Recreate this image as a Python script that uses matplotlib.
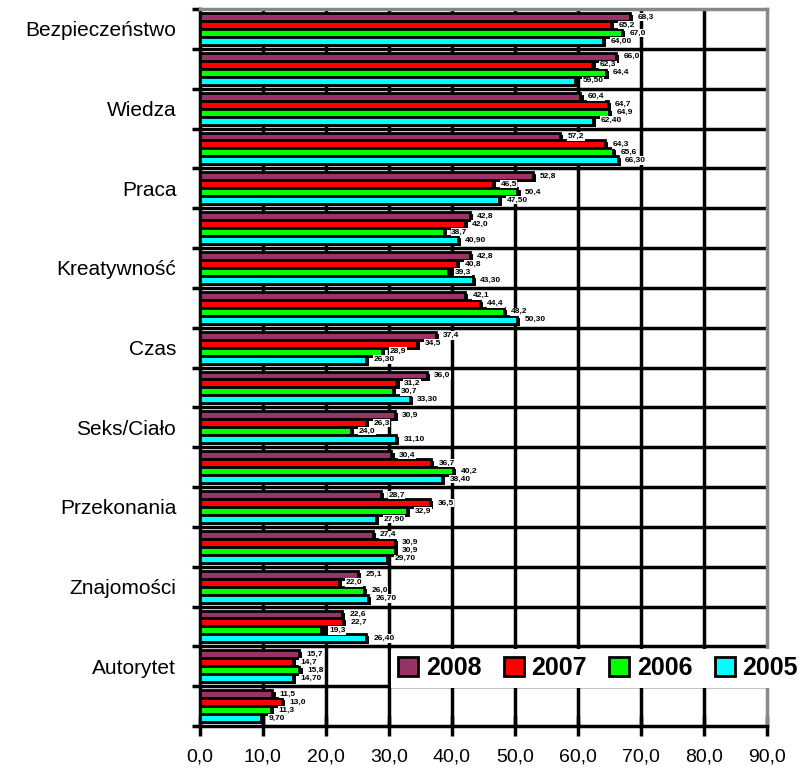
import numpy as np
import matplotlib.pyplot as plt
from matplotlib.patches import Patch

plt.rcParams["font.family"] = ["Liberation Sans", "DejaVu Sans"]

# 18 groups, only every other one carries a label
labels = ["Bezpieczeństwo", "", "Wiedza", "", "Praca", "", "Kreatywność", "",
          "Czas", "", "Seks/Ciało", "", "Przekonania", "", "Znajomości", "",
          "Autorytet", ""]

years = ["2008", "2007", "2006", "2005"]

v2008 = [68.3, 66.0, 60.4, 57.2, 52.8, 42.8, 42.8, 42.1, 37.4,
         36.0, 30.9, 30.4, 28.7, 27.4, 25.1, 22.6, 15.7, 11.5]
v2007 = [65.2, 62.3, 64.7, 64.3, 46.5, 42.0, 40.8, 44.4, 34.5,
         31.2, 26.3, 36.7, 36.5, 30.9, 22.0, 22.7, 14.7, 13.0]
v2006 = [67.0, 64.4, 64.9, 65.6, 50.4, 38.7, 39.3, 48.2, 28.9,
         30.7, 24.0, 40.2, 32.9, 30.9, 26.0, 19.3, 15.8, 11.3]
v2005 = [64.00, 59.50, 62.40, 66.30, 47.50, 40.90, 43.30, 50.30, 26.30,
         33.30, 31.10, 38.40, 27.90, 29.70, 26.70, 26.40, 14.70, 9.70]

colors = ["#993366", "#ff0000", "#00ff00", "#00ffff"]
series = [v2008, v2007, v2006, v2005]
decimals = [1, 1, 1, 2]

fig = plt.figure(figsize=(8.06, 7.79), dpi=100)
ax = fig.add_axes([0.248, 0.068, 0.7036, 0.9204])

n = len(labels)
ypos = np.arange(n)
bar_h = 0.2
offsets = [-0.3, -0.1, 0.1, 0.3]

# grid lines behind bars
for x in range(10, 90, 10):
    ax.axvline(x, color="black", lw=2.5, zorder=1)
for b in np.arange(0.5, n - 0.5, 1.0):
    ax.axhline(b, color="black", lw=2.5, zorder=1)

for vals, col, off, dec in zip(series, colors, offsets, decimals):
    vals = np.array(vals)
    # dark drop shadow
    ax.barh(ypos + off + 0.05, vals + 0.5, height=bar_h, color="black",
            zorder=2)
    ax.barh(ypos + off, vals, height=bar_h, color=col, edgecolor="black",
            linewidth=2, zorder=3)
    for y, v in zip(ypos + off, vals):
        txt = ("{:." + str(dec) + "f}").format(v).replace(".", ",")
        ax.text(v + 1.2, y, txt, fontsize=6, fontweight="bold",
                va="center", ha="left", zorder=4,
                bbox=dict(facecolor="white", edgecolor="none", pad=0.5))

ax.set_ylim(n - 0.5, -0.5)
ax.set_xlim(0, 90)

ax.set_yticks(ypos)
ax.set_yticklabels(labels, fontsize=15)
ax.tick_params(axis="y", length=0, pad=17)
ax.set_yticks(np.arange(-0.5, n, 1.0), minor=True)
ax.tick_params(axis="y", which="minor", length=6, width=2.5, direction="out")

ax.set_xticks(range(0, 100, 10))
ax.set_xticklabels(["{},0".format(x) for x in range(0, 100, 10)], fontsize=14)
ax.tick_params(axis="x", length=14, width=2.5, direction="inout", pad=9)

ax.spines["left"].set_linewidth(2.5)
ax.spines["bottom"].set_linewidth(2.5)
for s in ["top", "right"]:
    ax.spines[s].set_color("#888888")
    ax.spines[s].set_linewidth(2.5)

handles = [Patch(facecolor=c, edgecolor="black", linewidth=2) for c in colors]
leg = fig.legend(handles, years, loc="center", ncol=4,
                 bbox_to_anchor=(598 / 806, 1 - 668 / 779),
                 prop=dict(size=18, weight="bold"),
                 handlelength=0.8, handleheight=0.8, handletextpad=0.3,
                 columnspacing=0.9, frameon=True, fancybox=False,
                 framealpha=1, borderpad=0.3)
leg.get_frame().set_edgecolor("none")
leg.get_frame().set_facecolor("white")

plt.savefig("out.png", dpi=100)
